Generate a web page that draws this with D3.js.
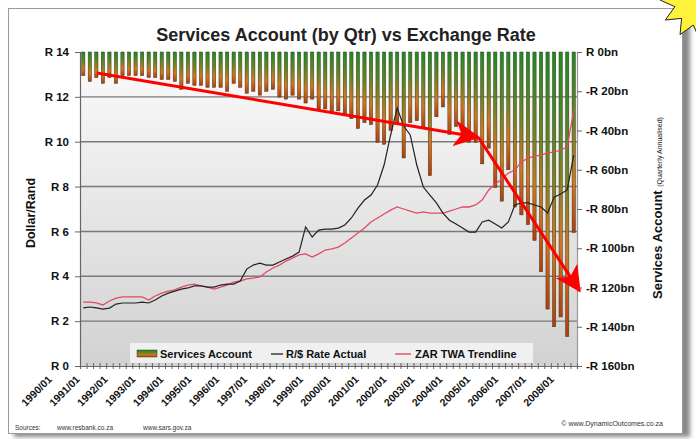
<!DOCTYPE html>
<html>
<head>
<meta charset="utf-8">
<script src="https://cdn.jsdelivr.net/npm/d3@7/dist/d3.min.js"></script>
<style>
  body { margin: 0; background: #fff; }
  svg { display: block; font-family: Arial, "Liberation Sans", sans-serif; }
</style>
</head>
<body>
<svg id="chart" width="696" height="439"></svg>
<script>
// years on the category axis (one bar per quarter)
var years = [1990, 1991, 1992, 1993, 1994, 1995, 1996, 1997, 1998, 1999,
             2000, 2001, 2002, 2003, 2004, 2005, 2006, 2007, 2008];
var qtrs = ["01", "02", "03", "04"];
var year_labels = ["1990/01", "1991/01", "1992/01", "1993/01", "1994/01", "1995/01",
                   "1996/01", "1997/01", "1998/01", "1999/01", "2000/01", "2001/01",
                   "2002/01", "2003/01", "2004/01", "2005/01", "2006/01", "2007/01", "2008/01"];

// services account, R bn (quarterly annualised)
var services = [-12, -15, -13, -16, -13, -16, -12, -12, -12, -12, -13, -13, -14, -14, -15, -19,
                -16, -17, -17, -18, -18, -18, -20, -16,
                -18, -21, -20, -22, -20, -19, -23, -24, -22, -24, -26, -24, -29, -29, -31, -30,
                -32, -34, -39, -36, -37, -46, -47, -40, -36,
                -54, -36, -35, -39, -63, -33, -28, -42, -38, -39, -46, -46, -57, -49,
                -69, -76, -60, -79, -83, -88, -96, -112, -131, -140, -135, -145, -92];

// R/$ rate actual
var rand_actual = [2.59, 2.63, 2.59, 2.54, 2.58, 2.76, 2.81, 2.81, 2.81, 2.85, 2.81, 2.94,
                   3.12, 3.25, 3.34, 3.43, 3.48, 3.57, 3.57, 3.52, 3.52, 3.61, 3.65, 3.65,
                   3.79, 4.32, 4.5, 4.59, 4.5, 4.5, 4.64, 4.77, 4.9, 5.08, 6.2, 5.75, 6.06,
                   6.1, 6.1, 6.15, 6.29, 6.6, 7.04, 7.4, 7.62, 8.07, 8.96, 10.3, 11.5,
                   10.7, 10.3, 8.96, 7.98, 7.62, 7.27, 6.82, 6.5, 6.33, 6.15, 5.97, 5.97, 6.42, 6.5,
                   6.33, 6.15, 6.42, 7.18, 7.27, 7.27, 7.18, 7.09, 6.82, 7.53, 7.67, 7.85, 9.4];

// ZAR TWA trendline
var zar_twa = [2.85, 2.85, 2.81, 2.72, 2.9, 3.03, 3.08, 3.08, 3.08, 3.08, 2.94, 3.12,
               3.25, 3.34, 3.39, 3.52, 3.61, 3.65, 3.57, 3.52, 3.43, 3.52, 3.61, 3.74,
               3.79, 3.88, 3.92, 3.97, 4.19, 4.37, 4.5, 4.68, 4.81, 4.95, 5.0, 4.86, 5.0,
               5.17, 5.22, 5.3, 5.48, 5.71, 5.93, 6.15, 6.42, 6.6, 6.78, 6.95, 7.09,
               7.0, 6.91, 6.82, 6.87, 6.82, 6.82, 6.82, 6.91, 7.0, 7.09, 7.09, 7.18, 7.4, 7.85,
               8.11, 8.34, 8.6, 8.74, 9.1, 9.27, 9.36, 9.4, 9.5, 9.54, 9.63, 9.76, 11.4];

// hand drawn red arrows: [quarter position, rand]
var arrow_pts = [[2.1, 13.06], [60.4, 10.2], [75.9, 3.35]];

var left_ticks = [0, 2, 4, 6, 8, 10, 12, 14];
var right_ticks = [0, -20, -40, -60, -80, -100, -120, -140, -160];

// quarter keys
var quarters = [];
years.forEach(function(y) { qtrs.forEach(function(q) { quarters.push(y + "/" + q); }); });

var svg = d3.select("#chart");
var plotL = 80, plotR = 577, plotT = 52, plotB = 366;

var defs = svg.append("defs");
var bg = defs.append("linearGradient").attr("id", "plotBg")
    .attr("x1", 0).attr("y1", 0).attr("x2", 0).attr("y2", 1);
bg.append("stop").attr("offset", "0%").attr("stop-color", "#fbfbfb");
bg.append("stop").attr("offset", "100%").attr("stop-color", "#d2d2d2");

var bar_grad = defs.append("linearGradient").attr("id", "barGrad")
    .attr("x1", 0).attr("y1", 0).attr("x2", 0).attr("y2", 1);
bar_grad.append("stop").attr("offset", "0%").attr("stop-color", "#1c8a26");
bar_grad.append("stop").attr("offset", "40%").attr("stop-color", "#6a8522");
bar_grad.append("stop").attr("offset", "72%").attr("stop-color", "#d6761c");
bar_grad.append("stop").attr("offset", "100%").attr("stop-color", "#b23c10");

var blur = defs.append("filter").attr("id", "shadow").attr("x", "-5%").attr("y", "-5%")
    .attr("width", "110%").attr("height", "110%");
blur.append("feGaussianBlur").attr("stdDeviation", 2);

defs.append("marker").attr("id", "arrowHead")
    .attr("viewBox", "0 0 26 26").attr("refX", 24).attr("refY", 13)
    .attr("markerWidth", 26).attr("markerHeight", 26)
    .attr("markerUnits", "userSpaceOnUse").attr("orient", "auto")
    .append("path").attr("d", "M0,0 L26,13 L0,26 L7,13 Z").attr("fill", "#f00");

// panel + shadow
svg.append("rect").attr("x", 14).attr("y", 14).attr("width", 676).attr("height", 423)
    .attr("fill", "#8a8a8a").attr("filter", "url(#shadow)");
svg.append("rect").attr("x", 8.5).attr("y", 8.5).attr("width", 674).attr("height", 425)
    .attr("fill", "#fff").attr("stroke", "#9a9a9a");

// starburst in the corner
var star = [];
for (var k = 0; k < 24; k++) {
    var a = k * Math.PI / 12, r = (k % 2 === 0) ? 40 : 26;
    star.push([700 + r * Math.cos(a), 0 + r * Math.sin(a)]);
}
svg.append("polygon").attr("points", star.map(function(p) { return p.join(","); }).join(" "))
    .attr("fill", "#fff23a").attr("stroke", "#222").attr("stroke-width", 1);

// scales
var x = d3.scaleBand().domain(quarters).range([plotL, plotR]).paddingInner(0.5).paddingOuter(0.25);
var xi = d3.scaleLinear().domain([0, quarters.length]).range([plotL, plotR]);
var y = d3.scaleLinear().domain([0, 14]).range([plotB, plotT]);
var y2 = d3.scaleLinear().domain([-160, 0]).range([plotB, plotT]);
var xl = d3.scalePoint().domain(year_labels).range([48, 550]);

// plot area
svg.append("rect").attr("x", plotL).attr("y", plotT).attr("width", plotR - plotL)
    .attr("height", plotB - plotT).attr("fill", "url(#plotBg)");

svg.append("g").selectAll("line").data(left_ticks.slice(1, -1)).join("line")
    .attr("x1", plotL).attr("x2", plotR)
    .attr("y1", d => y(d)).attr("y2", d => y(d))
    .attr("stroke", "#7a7a7a").attr("stroke-width", 1.4);

// bars
svg.append("g").selectAll("rect").data(services).join("rect")
    .attr("x", (d, i) => x(quarters[i]))
    .attr("y", y2(0))
    .attr("width", x.bandwidth())
    .attr("height", d => Math.max(0, y2(d) - y2(0)))
    .attr("fill", "url(#barGrad)")
    .attr("stroke", "#3b3a1c").attr("stroke-width", 0.5);

// lines
var line = d3.line().x((d, i) => xi(i + 0.5)).y(d => y(d));
svg.append("path").datum(zar_twa).attr("d", line)
    .attr("fill", "none").attr("stroke", "#e24a66").attr("stroke-width", 1.3);
svg.append("path").datum(rand_actual).attr("d", line)
    .attr("fill", "none").attr("stroke", "#222").attr("stroke-width", 1.2);

// axes
var left_axis = svg.append("g").attr("transform", "translate(" + plotL + ",0)")
    .call(d3.axisLeft(y).tickValues(left_ticks).tickSize(5).tickPadding(6)
        .tickFormat(d => "R " + d));
var right_axis = svg.append("g").attr("transform", "translate(" + plotR + ",0)")
    .call(d3.axisRight(y2).tickValues(right_ticks).tickSize(5).tickPadding(4)
        .tickFormat(d => d === 0 ? "R 0bn" : "-R " + Math.abs(d) + "bn"));
var bottom_axis = svg.append("g").attr("transform", "translate(0," + plotB + ")")
    .call(d3.axisBottom(xi).tickValues(d3.range(0, quarters.length + 1)).tickSize(3).tickFormat(""));
bottom_axis.selectAll(".tick line").attr("y1", -3);

[left_axis, right_axis, bottom_axis].forEach(function(g) {
    g.select(".domain").attr("stroke", "#666").attr("stroke-width", 1.2);
    g.selectAll(".tick line").attr("stroke", "#666");
    g.selectAll("text").attr("font-size", 11.5).attr("font-weight", "bold")
        .attr("fill", "#111").attr("font-family", "Arial, 'Liberation Sans', sans-serif");
});
right_axis.select(".domain").attr("stroke", "#999");

var label_axis = svg.append("g").attr("transform", "translate(0,376)")
    .call(d3.axisBottom(xl).tickSize(0).tickPadding(0));
label_axis.select(".domain").remove();
label_axis.selectAll("text")
    .attr("font-size", 10.5).attr("font-weight", "bold").attr("fill", "#111")
    .attr("font-family", "Arial, 'Liberation Sans', sans-serif")
    .attr("text-anchor", "end").attr("dy", "0.55em").attr("y", 0).attr("x", 0)
    .attr("transform", "rotate(-45)");

// legend
var lg = svg.append("g");
lg.append("rect").attr("x", 130).attr("y", 343).attr("width", 403).attr("height", 20)
    .attr("fill", "#f4f4f4").attr("opacity", 0.85);
lg.append("rect").attr("x", 137).attr("y", 350).attr("width", 20).attr("height", 7)
    .attr("fill", "url(#barGrad)").attr("stroke", "#3b3a1c").attr("stroke-width", 0.5);
lg.append("line").attr("x1", 271).attr("x2", 283).attr("y1", 354).attr("y2", 354)
    .attr("stroke", "#222").attr("stroke-width", 1.3);
lg.append("line").attr("x1", 395).attr("x2", 411).attr("y1", 354).attr("y2", 354)
    .attr("stroke", "#e24a66").attr("stroke-width", 1.4);
var legend_names = ["Services Account", "R/$ Rate Actual", "ZAR TWA Trendline"];
var legend_x = [160, 286, 415];
lg.selectAll("text").data(legend_names).join("text")
    .attr("x", (d, i) => legend_x[i]).attr("y", 358)
    .attr("font-size", 11).attr("font-weight", "bold").attr("fill", "#111")
    .text(d => d);

// arrows
var arrow_line = d3.line().x(d => xi(d[0] + 0.5)).y(d => y(d[1]));
svg.append("path").datum(arrow_pts.slice(0, 2)).attr("d", arrow_line)
    .attr("stroke", "#f00").attr("stroke-width", 3).attr("fill", "none")
    .attr("marker-end", "url(#arrowHead)");
svg.append("path").datum(arrow_pts.slice(1, 3)).attr("d", arrow_line)
    .attr("stroke", "#f00").attr("stroke-width", 3).attr("fill", "none")
    .attr("marker-end", "url(#arrowHead)");

// titles
svg.append("text").attr("x", 346).attr("y", 41).attr("text-anchor", "middle")
    .attr("font-size", 18).attr("font-weight", "bold").attr("fill", "#222")
    .text("Services Account (by Qtr) vs Exchange Rate");
svg.append("text").attr("transform", "translate(35,213) rotate(-90)")
    .attr("text-anchor", "middle").attr("font-size", 12.5).attr("font-weight", "bold")
    .attr("fill", "#111").text("Dollar/Rand");
var rt = svg.append("text").attr("transform", "translate(662,208) rotate(-90)")
    .attr("text-anchor", "middle").attr("fill", "#111");
rt.append("tspan").attr("font-size", 13).attr("font-weight", "bold").text("Services Account ");
rt.append("tspan").attr("font-size", 7).text("(Quarterly Annualised)");

// footer
var foot = svg.append("text").attr("y", 430).attr("font-size", 6.5).attr("fill", "#333");
foot.append("tspan").attr("x", 15).text("Sources:");
foot.append("tspan").attr("x", 57).text("www.resbank.co.za");
foot.append("tspan").attr("x", 143).text("www.sars.gov.za");
svg.append("text").attr("x", 663).attr("y", 426).attr("text-anchor", "end")
    .attr("font-size", 7).attr("fill", "#333").text("\u00a9  www.DynamicOutcomes.co.za");
</script>
</body>
</html>
